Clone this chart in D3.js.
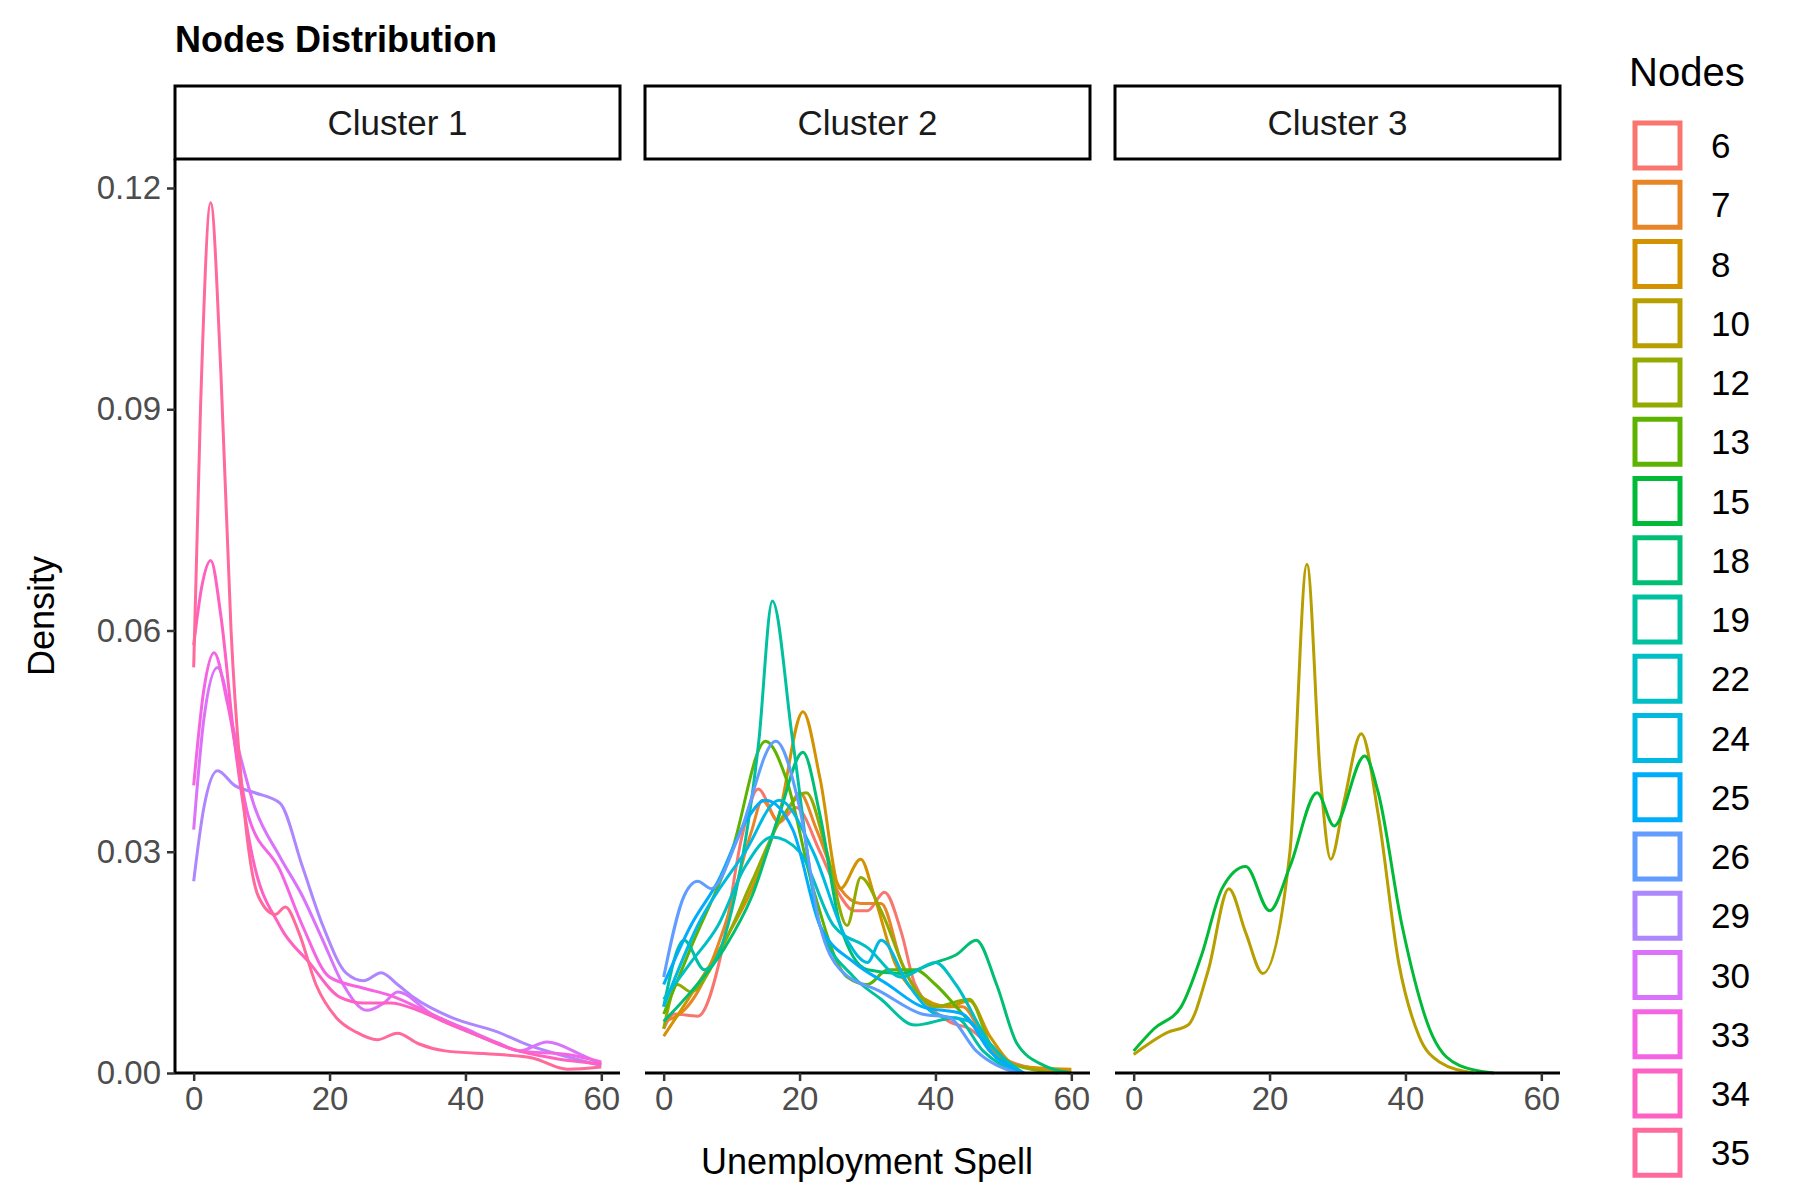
<!DOCTYPE html>
<html><head><meta charset="utf-8">
<script src="https://cdn.jsdelivr.net/npm/d3@7"></script>
<style>body{margin:0;background:#fff}text{font-family:Arial,"Liberation Sans",sans-serif}</style>
</head><body>
<script>
const nodeLevels = [6,7,8,10,12,13,15,18,19,22,24,25,26,29,30,33,34,35];
const clusters = ["Cluster 1","Cluster 2","Cluster 3"];
const xTicks = [0,20,40,60];
const yTicks = [0,0.03,0.06,0.09,0.12];
const yTickLabels = ["0.00","0.03","0.06","0.09","0.12"];

const c1_29 = [[0,0.026],[1.5,0.036],[3.5,0.041],[6,0.039],[9,0.038],[12.7,0.0366],[16,0.028],[19,0.02],[22.5,0.0135],[25,0.0125],[27.6,0.0136],[30,0.012],[32.3,0.0103],[38,0.0075],[44.6,0.0056],[49.5,0.0037],[55,0.0022],[60,0.001]];
const c1_30 = [[0,0.033],[1.5,0.048],[3.5,0.055],[6,0.046],[9,0.036],[12.7,0.0293],[16,0.024],[19,0.018],[22,0.012],[25.5,0.0085],[28,0.0095],[30,0.011],[35,0.008],[40,0.006],[45,0.004],[48,0.003],[52,0.0042],[57,0.0025],[60,0.0012]];
const c1_33 = [[0,0.039],[1.5,0.052],[3,0.057],[5,0.05],[8,0.035],[12.7,0.0275],[16,0.02],[20,0.013],[25,0.0115],[29,0.0105],[35,0.008],[42,0.005],[48,0.003],[55,0.0025],[60,0.0015]];
const c1_34 = [[0,0.058],[1.2,0.066],[2.5,0.0695],[4,0.062],[6,0.045],[8.5,0.03],[12.7,0.0199],[17,0.015],[21.5,0.0103],[25,0.0095],[29,0.0095],[33,0.0085],[37.2,0.0068],[42,0.005],[47,0.0032],[53,0.002],[60,0.0012]];
const c1_35 = [[0,0.055],[1,0.09],[2.5,0.118],[4,0.095],[5.5,0.06],[7.5,0.035],[9.5,0.024],[12,0.0215],[13.5,0.0225],[15.5,0.019],[18,0.012],[21,0.0075],[24,0.0055],[27,0.0045],[30,0.0054],[33,0.004],[37,0.003],[45,0.0025],[50,0.002],[55,0.0005],[60,0.0008]];

const c2_6 = [[0,0.006],[1.5,0.008],[5,0.0077],[8.6,0.0167],[11.5,0.032],[13.9,0.0385],[17,0.034],[19.5,0.036],[23,0.03],[26,0.024],[28,0.022],[30,0.022],[32.5,0.0245],[35,0.019],[37,0.012],[42,0.007],[45,0.006],[50,0.002],[55,0.0005],[60,0]];
const c2_7 = [[0,0.007],[3,0.0085],[5,0.011],[9,0.02],[13,0.033],[14.5,0.037],[17,0.034],[18.5,0.036],[20,0.038],[22.5,0.033],[26,0.025],[29,0.023],[32,0.023],[35,0.015],[40,0.009],[44,0.009],[48,0.003],[52,0.001],[60,0.0003]];
const c2_8 = [[0,0.005],[5,0.012],[9,0.018],[13,0.025],[17,0.035],[20.5,0.049],[23,0.04],[26,0.025],[29,0.029],[31,0.024],[34,0.015],[37,0.011],[42,0.009],[45,0.0098],[48,0.005],[52,0.001],[60,0.0005]];
const c2_12 = [[0,0.006],[2,0.012],[4,0.011],[8,0.016],[13,0.026],[17,0.034],[21,0.038],[24,0.03],[27,0.02],[29,0.0265],[32,0.022],[36,0.013],[40,0.009],[45,0.01],[48,0.004],[52,0.001],[58,0]];
const c2_13 = [[0,0.008],[4,0.017],[10,0.03],[15,0.045],[18,0.04],[22,0.025],[27,0.013],[30,0.012],[33,0.014],[37,0.014],[40,0.012],[44,0.008],[48,0.004],[52,0]];
const c2_18 = [[0,0.007],[4,0.011],[9,0.017],[13,0.024],[17,0.035],[20.5,0.0435],[23,0.035],[26,0.02],[30,0.014],[35,0.0135],[40,0.015],[43,0.016],[46,0.018],[49,0.012],[52,0.004],[56,0.001],[60,0]];
const c2_19 = [[0,0.009],[3,0.018],[6,0.014],[10,0.022],[14,0.045],[16,0.064],[19,0.045],[23,0.02],[28,0.013],[32,0.01],[37,0.0065],[43,0.0075],[47,0.003],[52,0]];
const c2_22 = [[0,0.01],[4,0.015],[8,0.02],[12,0.028],[16,0.032],[20,0.03],[25,0.02],[30,0.017],[35,0.013],[40,0.015],[43,0.012],[48,0.004],[53,0]];
const c2_24 = [[0,0.009],[5,0.02],[12,0.03],[17,0.037],[22,0.03],[27,0.018],[30,0.015],[32,0.018],[36,0.012],[40,0.008],[45,0.007],[49,0.002],[53,0]];
const c2_25 = [[0,0.012],[4,0.02],[8,0.026],[12,0.034],[15,0.037],[19,0.033],[23,0.02],[28,0.015],[33,0.012],[38,0.009],[44,0.008],[48,0.003],[53,0]];
const c2_26 = [[0,0.013],[3,0.024],[5,0.026],[7,0.025],[11,0.032],[16.5,0.045],[20,0.036],[23,0.02],[26,0.014],[32,0.011],[38,0.008],[42,0.0075],[46,0.003],[52,0]];

const c3_10 = [[0,0.0025],[5,0.0055],[8,0.0065],[11,0.014],[14,0.025],[16.5,0.019],[19,0.0135],[23,0.03],[25.5,0.069],[27.5,0.04],[29,0.029],[31,0.037],[33.5,0.046],[36,0.035],[39,0.015],[42,0.005],[45,0.0015],[50,0]];
const c3_15 = [[0,0.003],[3,0.006],[7,0.009],[10,0.016],[13,0.025],[16.5,0.028],[20,0.022],[23,0.028],[27,0.038],[29.5,0.0335],[34,0.043],[36,0.038],[39.5,0.02],[44,0.005],[48,0.001],[53,0]];

const series = [
  [0,29,c1_29],[0,30,c1_30],[0,33,c1_33],[0,34,c1_34],[0,35,c1_35],
  [1,6,c2_6],[1,7,c2_7],[1,8,c2_8],[1,12,c2_12],[1,13,c2_13],[1,18,c2_18],[1,19,c2_19],[1,22,c2_22],[1,24,c2_24],[1,25,c2_25],[1,26,c2_26],
  [2,10,c3_10],[2,15,c3_15]
];

function hclColor(h,c,l){
  const hr=h*Math.PI/180, u=c*Math.cos(hr), v=c*Math.sin(hr);
  const Xn=95.047,Yn=100,Zn=108.883;
  const Y=Yn*Math.pow((l+16)/116,3);
  const un=4*Xn/(Xn+15*Yn+3*Zn), vn=9*Yn/(Xn+15*Yn+3*Zn);
  const up=u/(13*l)+un, vp=v/(13*l)+vn;
  const X=Y*9*up/(4*vp), Z=Y*(12-3*up-20*vp)/(4*vp);
  const x=X/100,y=Y/100,z=Z/100;
  let r=3.2404542*x-1.5371385*y-0.4985314*z;
  let g=-0.9692660*x+1.8760108*y+0.0415560*z;
  let b=0.0556434*x-0.2040259*y+1.0572252*z;
  const gam=t=>{t=Math.max(0,Math.min(1,t));return 255*(t<=0.0031308?12.92*t:1.055*Math.pow(t,1/2.4)-0.055);};
  return d3.rgb(gam(r),gam(g),gam(b)).formatHex();
}
const color = d3.scaleOrdinal().domain(nodeLevels)
  .range(nodeLevels.map((d,i)=>hclColor(15+360*i/nodeLevels.length,100,65)));

const W=1800,H=1200;
const svg=d3.select("body").append("svg").attr("width",W).attr("height",H);
const panelX=[175,645,1115], panelW=445, plotTop=159, plotBottom=1073;
const y=d3.scaleLinear().domain([0,0.12]).range([plotBottom,188]);

svg.append("text").attr("x",175).attr("y",52).attr("font-size",36).attr("font-weight","bold").text("Nodes Distribution");

clusters.forEach((cl,i)=>{
  const x=d3.scaleLinear().domain([-2.75,62.75]).range([panelX[i],panelX[i]+panelW]);
  const g=svg.append("g");
  g.append("rect").attr("x",panelX[i]).attr("y",86).attr("width",panelW).attr("height",73)
    .attr("fill","#fff").attr("stroke","#000").attr("stroke-width",3);
  g.append("text").attr("x",panelX[i]+panelW/2).attr("y",135).attr("text-anchor","middle")
    .attr("font-size",35).attr("fill","#1a1a1a").text(cl);
  const line=d3.line().x(d=>x(d[0])).y(d=>y(d[1])).curve(d3.curveMonotoneX);
  series.filter(s=>s[0]===i).forEach(s=>{
    g.append("path").attr("d",line(s[2])).attr("fill","none").attr("stroke",color(s[1])).attr("stroke-width",3);
  });
  const ax=g.append("g").attr("transform",`translate(0,${plotBottom})`)
    .call(d3.axisBottom(x).tickValues(xTicks).tickSize(8).tickPadding(6));
  ax.select(".domain").attr("stroke","#000").attr("stroke-width",3).attr("d",`M${panelX[i]},0H${panelX[i]+panelW}`);
  ax.selectAll(".tick line").attr("stroke","#333").attr("stroke-width",2.5);
  ax.selectAll(".tick text").attr("font-size",33).attr("fill","#4d4d4d").attr("font-family","Arial,'Liberation Sans',sans-serif");
});

const ay=svg.append("g").attr("transform",`translate(175,0)`)
  .call(d3.axisLeft(y).tickValues(yTicks).tickFormat((d,i)=>yTickLabels[i]).tickSize(8).tickPadding(6));
ay.select(".domain").attr("stroke","#000").attr("stroke-width",3).attr("d",`M0,${plotTop}V${plotBottom}`);
ay.selectAll(".tick line").attr("stroke","#333").attr("stroke-width",2.5);
ay.selectAll(".tick text").attr("font-size",33).attr("fill","#4d4d4d").attr("font-family","Arial,'Liberation Sans',sans-serif");

svg.append("text").attr("transform","translate(54,616) rotate(-90)").attr("text-anchor","middle")
  .attr("font-size",36).text("Density");
svg.append("text").attr("x",867).attr("y",1174).attr("text-anchor","middle").attr("font-size",36).text("Unemployment Spell");

const lg=svg.append("g");
lg.append("text").attr("x",1629).attr("y",86).attr("font-size",40).text("Nodes");
nodeLevels.forEach((n,i)=>{
  const yy=123+i*59.25;
  lg.append("rect").attr("x",1635).attr("y",yy).attr("width",45).attr("height",45)
    .attr("fill","#fff").attr("stroke",color(n)).attr("stroke-width",5);
  lg.append("text").attr("x",1711).attr("y",yy+22.5).attr("dy","0.36em").attr("font-size",35).text(n);
});
</script>
</body></html>
